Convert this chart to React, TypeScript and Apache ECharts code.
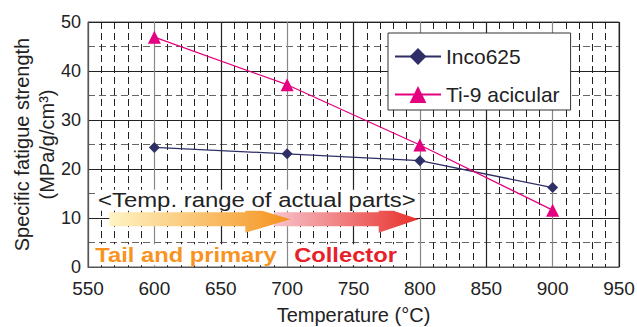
import React, { useEffect, useRef } from "react";
import * as echarts from "echarts";

const temperatures = [600, 700, 800, 900];
const inco625 = [24.4, 23.1, 21.7, 16.2];
const ti9Acicular = [46.9, 37.2, 24.9, 11.6];
const seriesNames = ["Inco625", "Ti-9 acicular"];
const xAxisRange = { min: 550, max: 950, interval: 50 };
const yAxisRange = { min: 0, max: 50, interval: 10 };
const xTitle = "Temperature (°C)";
const yTitle = "Specific fatigue strength\n(MPa/g/cm³)";
const rangeTitle = "<Temp. range of actual parts>";
const rangeLabels = ["Tail and primary", "Collector"];

const FONT = "Arial, 'Liberation Sans', Helvetica, sans-serif";

export default function App() {
  const ref = useRef<HTMLDivElement>(null);

  useEffect(() => {
    if (!ref.current) return;
    const chart = echarts.init(ref.current, undefined, { renderer: "svg" });
    chart.setOption({
      animation: false,
      backgroundColor: "#ffffff",
      textStyle: { fontFamily: FONT },
      grid: {
        left: 88,
        right: 18,
        top: 22,
        bottom: 60,
        show: true,
        borderColor: "#555",
        borderWidth: 1,
        containLabel: false,
        outerBoundsMode: "none",
      },
      legend: {
        orient: "vertical",
        left: 388,
        top: 33,
        padding: [13, 11, 5, 6],
        itemGap: 17,
        itemWidth: 46,
        itemHeight: 21,
        borderColor: "#333",
        borderWidth: 1,
        backgroundColor: "#ffffff",
        textStyle: { fontSize: 21, color: "#222", fontFamily: FONT },
        data: seriesNames,
      },
      xAxis: {
        type: "value",
        min: xAxisRange.min,
        max: xAxisRange.max,
        interval: xAxisRange.interval,
        name: xTitle,
        nameLocation: "middle",
        nameGap: 38,
        nameMoveOverlap: false,
        nameTextStyle: { fontSize: 20, color: "#222", fontFamily: FONT },
        axisLine: { show: true, lineStyle: { color: "#555", width: 1 } },
        axisTick: { show: false },
        axisLabel: { fontSize: 19, color: "#222", margin: 12, fontFamily: FONT },
        splitLine: { show: true, lineStyle: { color: ["#222", "#888"], width: 1.2 } },
        minorTick: { show: false, splitNumber: 5 },
        minorSplitLine: { show: true, lineStyle: { color: "#222", width: 1, type: [7, 4] } },
      },
      yAxis: {
        type: "value",
        min: yAxisRange.min,
        max: yAxisRange.max,
        interval: yAxisRange.interval,
        name: yTitle,
        nameLocation: "middle",
        nameGap: 29,
        nameMoveOverlap: false,
        nameRotate: 90,
        nameTextStyle: { fontSize: 20, color: "#222", lineHeight: 25, fontFamily: FONT, align: "center" },
        axisLine: { show: true, lineStyle: { color: "#555", width: 1 } },
        axisTick: { show: false },
        axisLabel: { fontSize: 18, color: "#222", margin: 7, fontFamily: FONT },
        splitLine: { show: true, lineStyle: { color: "#222", width: 1 } },
        minorTick: { show: false, splitNumber: 2 },
        minorSplitLine: { show: true, lineStyle: { color: "#666", width: 1.2, type: [7, 4] } },
      },
      series: [
        {
          name: seriesNames[0],
          type: "line",
          data: temperatures.map((t, i) => [t, inco625[i]]),
          symbol: "diamond",
          symbolSize: 11,
          itemStyle: { color: "#2e2f66" },
          lineStyle: { color: "#2e2f66", width: 1.3 },
          z: 3,
        },
        {
          name: seriesNames[1],
          type: "line",
          data: temperatures.map((t, i) => [t, ti9Acicular[i]]),
          symbol: "triangle",
          symbolSize: 13,
          itemStyle: { color: "#e5007f" },
          lineStyle: { color: "#e5007f", width: 1.3 },
          z: 4,
        },
      ],
    });

    const px = (x: number, y: number) =>
      chart.convertToPixel({ gridIndex: 0 }, [x, y]) as number[];

    const arrow = (x0: number, xh: number, xt: number, yc: number, bodyHalf: number, headHalf: number) => {
      const a = px(x0, yc);
      const h = px(xh, yc);
      const t = px(xt, yc);
      const cy = a[1];
      return [
        [a[0], cy - bodyHalf],
        [h[0], cy - bodyHalf],
        [h[0], cy - headHalf],
        [t[0], cy],
        [h[0], cy + headHalf],
        [h[0], cy + bodyHalf],
        [a[0], cy + bodyHalf],
      ];
    };

    const titlePos = px(557.5, 13.6);
    const tailPos = px(555.5, 2.5);
    const collPos = px(705.3, 2.5);

    chart.setOption({
      graphic: [
        {
          type: "polygon",
          z: 10,
          shape: { points: arrow(690, 769, 799, 9.75, 7, 13.5) },
          style: {
            fill: new echarts.graphic.LinearGradient(0, 0, 1, 0, [
              { offset: 0, color: "#f7c3cb" },
              { offset: 1, color: "#e8302a" },
            ]),
          },
        },
        {
          type: "polygon",
          z: 11,
          shape: { points: arrow(566, 668.5, 702.5, 9.75, 7, 13.5) },
          style: {
            fill: new echarts.graphic.LinearGradient(0, 0, 1, 0, [
              { offset: 0, color: "#fff4c4" },
              { offset: 1, color: "#f5921e" },
            ]),
          },
        },
        {
          type: "text",
          z: 12,
          x: titlePos[0],
          y: titlePos[1],
          scaleX: 1.14,
          style: {
            text: rangeTitle,
            fontSize: 21,
            fontFamily: FONT,
            fill: "#222",
            align: "left",
            verticalAlign: "middle",
            backgroundColor: "#ffffff",
          },
        },
        {
          type: "text",
          z: 12,
          x: tailPos[0],
          y: tailPos[1],
          scaleX: 1.13,
          style: {
            text: rangeLabels[0],
            fontSize: 21,
            fontWeight: "bold",
            fontFamily: FONT,
            fill: "#f7931e",
            align: "left",
            verticalAlign: "middle",
            backgroundColor: "#ffffff",
          },
        },
        {
          type: "text",
          z: 12,
          x: collPos[0],
          y: collPos[1],
          scaleX: 1.13,
          style: {
            text: rangeLabels[1],
            fontSize: 21,
            fontWeight: "bold",
            fontFamily: FONT,
            fill: "#e8202a",
            align: "left",
            verticalAlign: "middle",
            backgroundColor: "#ffffff",
          },
        },
      ],
    });

    return () => chart.dispose();
  }, []);

  return (
    <div
      ref={ref}
      style={{ position: "absolute", left: 0, top: 0, width: 637, height: 327 }}
    />
  );
}
